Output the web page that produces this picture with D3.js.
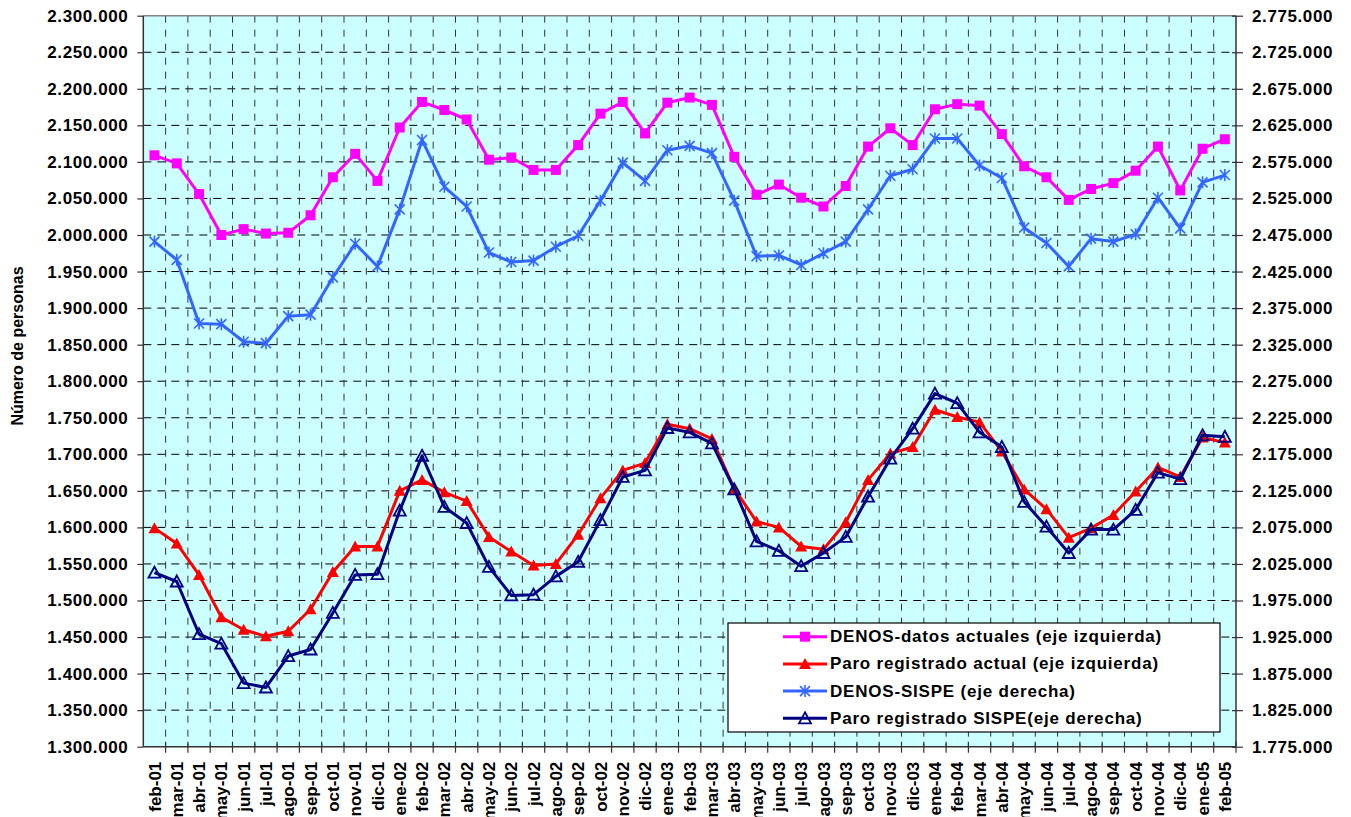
<!DOCTYPE html>
<html>
<head>
<meta charset="utf-8">
<script src="https://cdn.jsdelivr.net/npm/d3@7"></script>
<style>
  body { margin: 0; background: #fff; }
  text { font-family: Arial, "Liberation Sans", sans-serif; font-weight: bold; fill: #000; }
</style>
</head>
<body>
<div id="chart"></div>
<script>
const categories = [
  "feb-01","mar-01","abr-01","may-01","jun-01","jul-01","ago-01","sep-01","oct-01","nov-01","dic-01",
  "ene-02","feb-02","mar-02","abr-02","may-02","jun-02","jul-02","ago-02","sep-02","oct-02","nov-02","dic-02",
  "ene-03","feb-03","mar-03","abr-03","may-03","jun-03","jul-03","ago-03","sep-03","oct-03","nov-03","dic-03",
  "ene-04","feb-04","mar-04","abr-04","may-04","jun-04","jul-04","ago-04","sep-04","oct-04","nov-04","dic-04",
  "ene-05","feb-05"
];

// eje izquierda
const denosActual = [
  2109000, 2098000, 2056000, 2000000, 2008000, 2002000, 2003000, 2027000, 2079000, 2111000, 2074000,
  2147000, 2182000, 2171000, 2158000, 2103000, 2106000, 2089000, 2089000, 2123000, 2166000, 2182000, 2139000,
  2181000, 2188000, 2178000, 2107000, 2055000, 2069000, 2051000, 2039000, 2067000, 2121000, 2146000, 2123000,
  2172000, 2179000, 2177000, 2138000, 2094000, 2079000, 2048000, 2063000, 2071000, 2088000, 2121000, 2061000,
  2118000, 2131000
];
const paroActual = [
  1599000, 1578000, 1535000, 1477000, 1460000, 1451000, 1458000, 1488000, 1539000, 1574000, 1574000,
  1650000, 1665000, 1648000, 1636000, 1587000, 1567000, 1548000, 1550000, 1590000, 1640000, 1678000, 1688000,
  1741000, 1735000, 1721000, 1653000, 1608000, 1600000, 1574000, 1570000, 1607000, 1665000, 1701000, 1710000,
  1761000, 1751000, 1744000, 1704000, 1652000, 1625000, 1586000, 1599000, 1617000, 1649000, 1682000, 1669000,
  1723000, 1716000
];

// eje derecha
const denosSispe = [
  2466000, 2441000, 2354000, 2353000, 2329000, 2327000, 2364000, 2366000, 2417000, 2463000, 2432000,
  2510000, 2605000, 2541000, 2514000, 2451000, 2438000, 2440000, 2459000, 2474000, 2522000, 2574000, 2549000,
  2591000, 2597000, 2587000, 2522000, 2446000, 2447000, 2434000, 2450000, 2466000, 2510000, 2556000, 2565000,
  2607000, 2607000, 2570000, 2553000, 2485000, 2464000, 2432000, 2470000, 2466000, 2476000, 2526000, 2484000,
  2547000, 2557000
];
const paroSispe = [
  2013000, 2001000, 1929000, 1916000, 1862000, 1856000, 1899000, 1908000, 1958000, 2010000, 2011000,
  2098000, 2173000, 2103000, 2081000, 2021000, 1982000, 1983000, 2008000, 2028000, 2085000, 2144000, 2153000,
  2211000, 2205000, 2190000, 2127000, 2056000, 2043000, 2022000, 2040000, 2062000, 2117000, 2169000, 2210000,
  2258000, 2245000, 2205000, 2185000, 2110000, 2076000, 2040000, 2072000, 2072000, 2099000, 2150000, 2141000,
  2201000, 2199000
];

const leftTicks = d3.range(1300000, 2300001, 50000);
const rightTicks = d3.range(1775000, 2775001, 50000);

const width = 1351, height = 817;
const margin = { top: 15.7, right: 115, bottom: 70.3, left: 143.3 };

const svg = d3.select("#chart").append("svg")
  .attr("width", width)
  .attr("height", height);

const x = d3.scaleBand()
  .domain(categories)
  .range([margin.left, width - margin.right])
  .padding(0);

const yL = d3.scaleLinear()
  .domain([1300000, 2300000])
  .range([height - margin.bottom, margin.top]);

const yR = d3.scaleLinear()
  .domain([1775000, 2775000])
  .range([height - margin.bottom, margin.top]);

const es = d3.formatLocale({ decimal: ",", thousands: ".", grouping: [3], currency: ["", " €"] });
const fmt = es.format(",d");

const x0 = margin.left, x1 = width - margin.right;
const yTop = margin.top, yBot = height - margin.bottom;
const cx = d => x(d) + x.bandwidth() / 2;

// plot area
svg.append("rect")
  .attr("x", x0).attr("y", yTop)
  .attr("width", x1 - x0).attr("height", yBot - yTop)
  .attr("fill", "#CCFFFF");

// grid
svg.append("g")
  .selectAll("line")
  .data(leftTicks.slice(1, -1))
  .join("line")
  .attr("x1", x0).attr("x2", x1)
  .attr("y1", d => yL(d)).attr("y2", d => yL(d))
  .attr("stroke", "#000")
  .attr("stroke-width", 1)
  .attr("stroke-dasharray", "8,6");

svg.append("g")
  .selectAll("line")
  .data(categories.slice(1))
  .join("line")
  .attr("x1", d => x(d)).attr("x2", d => x(d))
  .attr("y1", yTop).attr("y2", yBot)
  .attr("stroke", "#333")
  .attr("stroke-width", 1)
  .attr("stroke-dasharray", "7,7");

// top border
svg.append("line")
  .attr("x1", x0).attr("x2", x1)
  .attr("y1", yTop).attr("y2", yTop)
  .attr("stroke", "#808080").attr("stroke-width", 1.5);

// axes
const leftAxis = svg.append("g")
  .attr("transform", `translate(${x0},0)`)
  .call(d3.axisLeft(yL).tickValues(leftTicks).tickFormat(fmt).tickSize(6).tickPadding(9));

const rightAxis = svg.append("g")
  .attr("transform", `translate(${x1},0)`)
  .call(d3.axisRight(yR).tickValues(rightTicks).tickFormat(fmt).tickSize(7).tickPadding(9));
rightAxis.selectAll(".tick line").attr("x1", -4);

const bottomAxis = svg.append("g")
  .attr("transform", `translate(0,${yBot})`)
  .call(d3.axisBottom(x).tickSize(0).tickPadding(0));
bottomAxis.selectAll(".tick text")
  .attr("transform", "rotate(-90)")
  .attr("text-anchor", "end")
  .attr("x", -15)
  .attr("y", 0)
  .attr("dy", "0.36em");

svg.append("g")
  .selectAll("line")
  .data(categories.slice(1).concat(["__end"]))
  .join("line")
  .attr("x1", d => d === "__end" ? x1 : x(d))
  .attr("x2", d => d === "__end" ? x1 : x(d))
  .attr("y1", yBot - 5).attr("y2", yBot + 6)
  .attr("stroke", "#333").attr("stroke-width", 1.2);

[leftAxis, rightAxis, bottomAxis].forEach(g => {
  g.select(".domain").attr("stroke", "#333").attr("stroke-width", 1.5);
  g.selectAll(".tick line").attr("stroke", "#333").attr("stroke-width", 1.2);
  g.selectAll(".tick text").style("font-size", "17px").style("font-weight", "bold")
    .attr("fill", "#000").style("font-family", "Arial, 'Liberation Sans', sans-serif");
});
leftAxis.selectAll(".tick text").style("letter-spacing", "0.6px");
rightAxis.selectAll(".tick text").style("letter-spacing", "0.6px");
leftAxis.select(".domain").attr("d", `M0,${yTop}V${yBot}`);
rightAxis.select(".domain").attr("d", `M0,${yTop}V${yBot}`);
bottomAxis.select(".domain").attr("d", `M${x0},0H${x1}`);

// y title
svg.append("text")
  .attr("transform", `translate(17,346) rotate(-90)`)
  .attr("text-anchor", "middle")
  .attr("dominant-baseline", "central")
  .style("font-size", "16px")
  .text("Número de personas");

// markers
function drawMarker(g, type, color) {
  if (type === "square") {
    g.append("rect").attr("x", -5).attr("y", -5).attr("width", 10).attr("height", 10).attr("fill", color);
  } else if (type === "triangle") {
    g.append("path").attr("d", "M0,-6L6,5L-6,5Z").attr("fill", color);
  } else if (type === "star") {
    g.append("path").attr("d", "M-5,-5L5,5M-5,5L5,-5M0,-6V6")
      .attr("stroke", color).attr("stroke-width", 1.6).attr("fill", "none");
  } else if (type === "opentri") {
    g.append("path").attr("d", "M0,-6L6,5L-6,5Z")
      .attr("fill", "none").attr("stroke", color).attr("stroke-width", 1.8);
  }
}

const series = [
  { name: "DENOS-datos actuales (eje izquierda)", values: denosActual, y: yL, color: "#FF00FF", marker: "square" },
  { name: "Paro registrado actual (eje izquierda)", values: paroActual, y: yL, color: "#FF0000", marker: "triangle" },
  { name: "DENOS-SISPE (eje derecha)", values: denosSispe, y: yR, color: "#3366FF", marker: "star" },
  { name: "Paro registrado SISPE(eje derecha)", values: paroSispe, y: yR, color: "#000080", marker: "opentri" }
];

series.forEach(s => {
  const line = d3.line()
    .x((d, i) => cx(categories[i]))
    .y(d => s.y(d));
  svg.append("path")
    .datum(s.values)
    .attr("d", line)
    .attr("fill", "none")
    .attr("stroke", s.color)
    .attr("stroke-width", 3)
    .attr("stroke-linejoin", "round");
  svg.append("g")
    .selectAll("g")
    .data(s.values)
    .join("g")
    .attr("transform", (d, i) => `translate(${cx(categories[i])},${s.y(d)})`)
    .each(function () { drawMarker(d3.select(this), s.marker, s.color); });
});

// legend
const lg = svg.append("g");
lg.append("rect")
  .attr("x", 728).attr("y", 623)
  .attr("width", 492).attr("height", 109)
  .attr("fill", "#fff").attr("stroke", "#000").attr("stroke-width", 1.2);

series.forEach((s, i) => {
  const yy = 636.7 + i * 27.2;
  lg.append("line")
    .attr("x1", 783).attr("x2", 827)
    .attr("y1", yy).attr("y2", yy)
    .attr("stroke", s.color).attr("stroke-width", 3);
  drawMarker(lg.append("g").attr("transform", `translate(805,${yy})`), s.marker, s.color);
  lg.append("text")
    .attr("x", 830).attr("y", yy)
    .attr("dominant-baseline", "central")
    .style("font-size", "17px")
    .style("letter-spacing", "0.8px")
    .text(s.name);
});
</script>
</body>
</html>
